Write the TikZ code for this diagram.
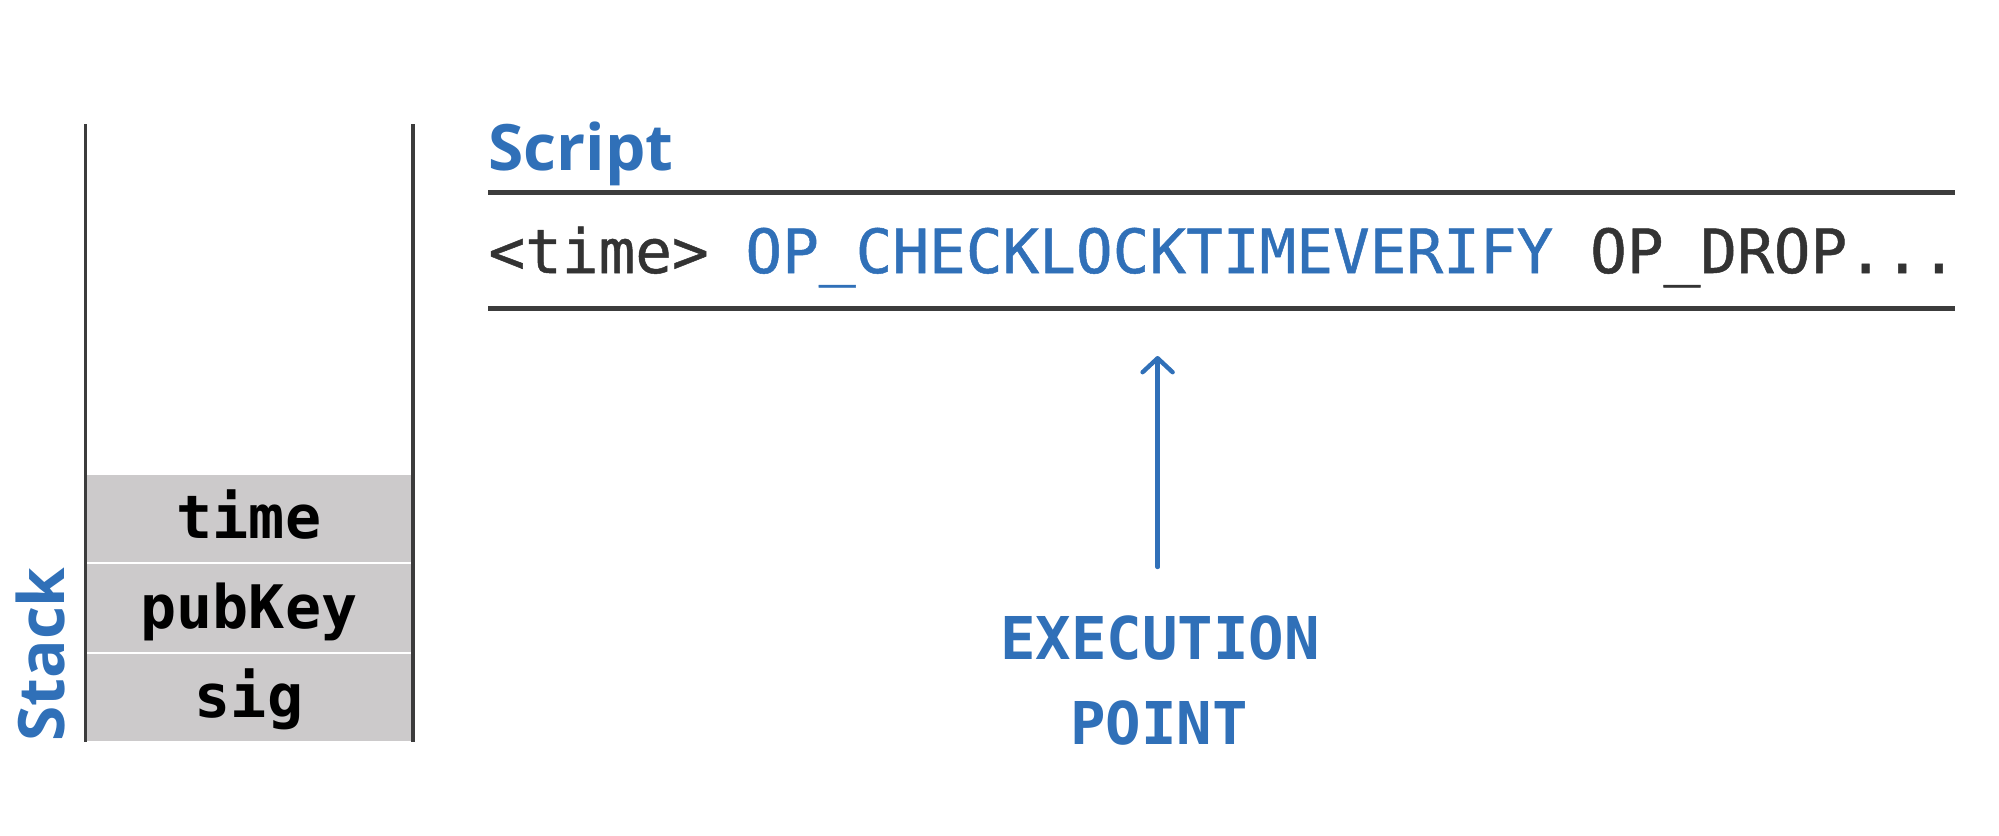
\documentclass[tikz,border=0pt]{standalone}
\usepackage{fontspec}
\usetikzlibrary{arrows.meta}
\newfontfamily\monofnt{DejaVu Sans Mono}
\newfontfamily\monomed{DejaVu Sans Mono}[FakeBold=0.8]
\newfontfamily\sansfnt{Open Sans}
\definecolor{bblue}{HTML}{3070B8}
\definecolor{cellgray}{HTML}{CCCACB}
\definecolor{rulegray}{HTML}{3C3C3C}
\definecolor{txtgray}{HTML}{333333}
\begin{document}
\begin{tikzpicture}[x=0.5pt,y=-0.5pt,
  cellbox/.style={fill=cellgray,draw=white,line width=1pt,minimum width=164pt,
    minimum height=44.65pt,inner sep=0pt,text height=20pt,text depth=0pt,
    font=\monofnt\bfseries\fontsize{30pt}{36pt}\selectfont,text=black},
  wallline/.style={draw=rulegray,line width=1.9pt},
  hrule/.style={draw=rulegray,line width=2.2pt},
  heading/.style={font=\sansfnt\bfseries\fontsize{32pt}{38pt}\selectfont,text=bblue,inner sep=0pt},
  codetext/.style={font=\monomed\fontsize{30.5pt}{36pt}\selectfont,text=txtgray,inner sep=0pt},
  exectext/.style={font=\monofnt\bfseries\fontsize{29.5pt}{36pt}\selectfont,text=bblue,inner sep=0pt},
  execarrow/.style={draw=bblue,line width=2.2pt,line cap=round,
    -{Straight Barb[length=7pt,width=15pt,line width=2.2pt,round]}}
]
\useasboundingbox (0,0) rectangle (1999,836);
% stack cells
\node[cellbox] (ctime) at (249,518.7) {time};
\node[cellbox] (cpub) at (249,608) {pubKey};
\node[cellbox] (csig) at (249,697.3) {sig};
% stack walls
\coordinate (lwtop) at (85.5,124);
\coordinate (lwbot) at (85.5,742);
\coordinate (rwtop) at (413,124);
\coordinate (rwbot) at (413,742);
\draw[wallline] (lwtop) -- (lwbot);
\draw[wallline] (rwtop) -- (rwbot);
% stack label
\node[heading,rotate=90,anchor=base west] (stacklbl) at (64,742) {Stack};
% script
\node[heading,anchor=base west] (scriptlbl) at (488,170) {Script};
\coordinate (r1a) at (488,192.5);
\coordinate (r1b) at (1955,192.5);
\coordinate (r2a) at (488,308.5);
\coordinate (r2b) at (1955,308.5);
\draw[hrule] (r1a) -- (r1b);
\draw[hrule] (r2a) -- (r2b);
\node[codetext,anchor=base west] (code) at (488,273)
  {<time> \textcolor{bblue}{OP\_CHECKLOCKTIMEVERIFY} OP\_DROP...};
% execution point
\node[exectext,anchor=base] (exec1) at (1160,659) {EXECUTION};
\node[exectext,anchor=base] (exec2) at (1159,744.5) {POINT};
\coordinate (abot) at (1157.6,567);
\coordinate (atop) at (1157.6,356);
\draw[execarrow] (abot) -- (atop);
\end{tikzpicture}
\end{document}
